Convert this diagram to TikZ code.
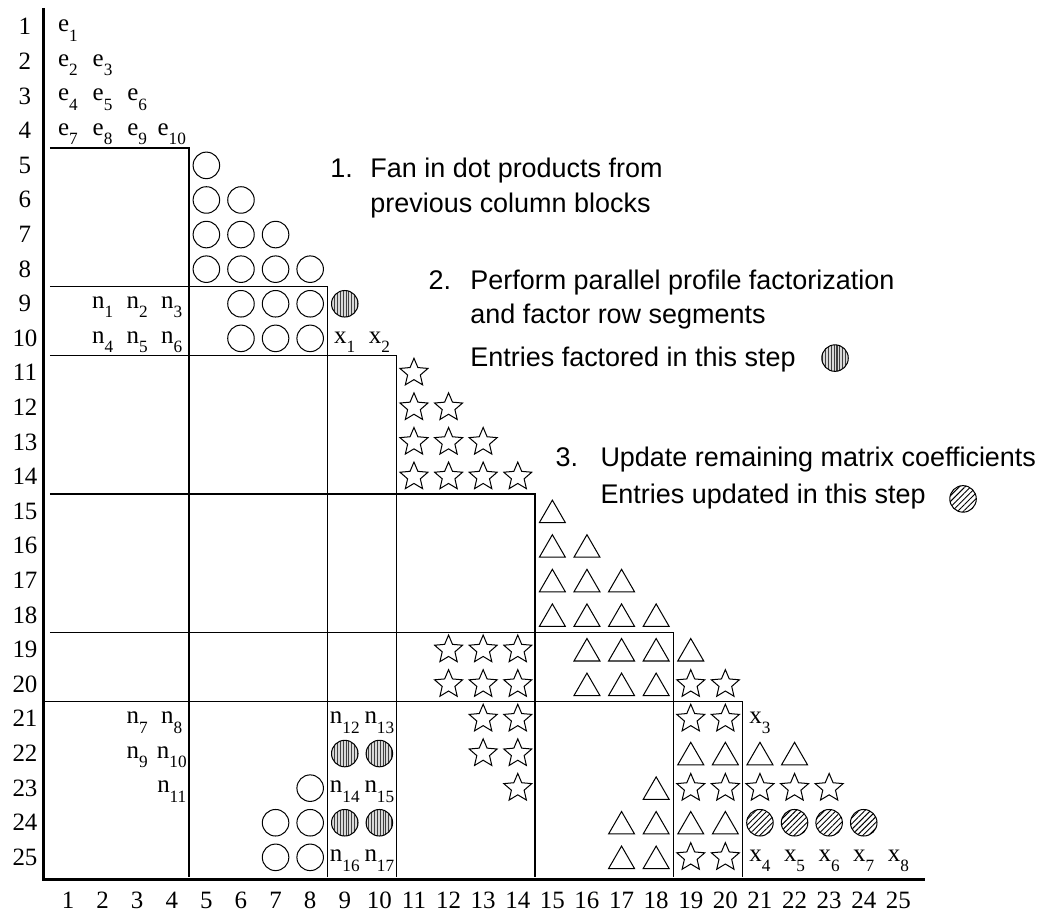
\documentclass[tikz,border=0pt]{standalone}
\usepackage{fontspec}
\setmainfont{Liberation Serif}
\setsansfont{Liberation Sans}
\usetikzlibrary{
    shapes.geometric,
    patterns.meta
}
\newcommand{\sbs}[2]{#1\raisebox{-0.38em}{\fontsize{8.5}{9}\selectfont #2}}
\tikzset{
  lbl/.style   = {font=\fontsize{12.3}{14}\selectfont, inner sep=0pt},
  entry/.style = {lbl, anchor=mid},
  txt/.style   = {font=\sffamily\fontsize{13.3}{15}\selectfont,
                  inner sep=0pt, anchor=base west},
  dotp/.style  = {draw, circle, minimum size=0.46cm, inner sep=0pt, line width=0.5pt},
  fact/.style  = {dotp, preaction={fill=gray!30},
                  pattern={Lines[angle=90, distance=1.4pt, line width=0.5pt]},
                  pattern color=gray!50!black},
  updt/.style  = {dotp, pattern={Lines[angle=45, distance=2pt, line width=0.45pt]}},
  strn/.style  = {draw, star, star points=5, star point ratio=2.2,
                  minimum size=0.51cm, inner sep=0pt, line width=0.5pt},
  tri/.style   = {draw, regular polygon, regular polygon sides=3,
                  minimum size=0.52cm, inner sep=0pt, yshift=-0.065cm, line width=0.5pt},
  axis/.style  = {line width=1.5pt},
  blk/.style   = {line width=0.6pt}
}

\begin{document}
\begin{tikzpicture}[x=0.6cm, y=-0.6cm]
\useasboundingbox (-0.965,0.22) rectangle (29.21,26.61);

% axes and labels
\coordinate (ytop) at (0.306,0.45);
\coordinate (orig) at (0.306,25.65);
\coordinate (xend) at (25.77,25.65);
\draw[axis] (ytop) -- (orig) -- (xend);
\foreach \r in {1,...,25}
  \node[lbl, anchor=base] (r\r) at (-0.243,\r+0.23) {\r};
\foreach \c in {1,...,25}
  \node[lbl, anchor=base] (k\c) at (\c,26.49) {\c};

% column blocks
\foreach \b/\s in {4.5/0.48, 8.5/0.48, 10.5/0.48, 14.5/0.48, 18.5/0.48, 20.5/0.31}
  \draw[blk] (\s,\b) -- (\b,\b) -- (\b,25.57);

% entries
\foreach \k/\c/\r in {1/1/1, 2/1/2, 3/2/2, 4/1/3, 5/2/3, 6/3/3,
                      7/1/4, 8/2/4, 9/3/4, 10/4/4}
  \node[entry] (e\k) at (\c,\r) {\sbs{e}{\k}};
\foreach \k/\c/\r in {1/2/9, 2/3/9, 3/4/9, 4/2/10, 5/3/10, 6/4/10,
                      7/3/21, 8/4/21, 9/3/22, 10/4/22, 11/4/23,
                      12/9/21, 13/10/21, 14/9/23, 15/10/23, 16/9/25, 17/10/25}
  \node[entry] (n\k) at (\c,\r) {\sbs{n}{\k}};
\foreach \k/\c/\r in {1/9/10, 2/10/10, 3/21/21, 4/21/25, 5/22/25,
                      6/23/25, 7/24/25, 8/25/25}
  \node[entry] (x\k) at (\c,\r) {\sbs{x}{\k}};

% dot products
\foreach \r in {5,...,8}
  \foreach \c in {5,...,\r}
    \node[dotp] (o\r-\c) at (\c,\r) {};
\foreach \c/\r in {6/9, 7/9, 8/9, 6/10, 7/10, 8/10, 8/23, 7/24, 8/24, 7/25, 8/25}
  \node[dotp] (o\r-\c) at (\c,\r) {};
\foreach \c/\r in {9/9, 9/22, 10/22, 9/24, 10/24}
  \node[fact] (f\r-\c) at (\c,\r) {};
\foreach \c in {21,...,24}
  \node[updt] (u24-\c) at (\c,24) {};

% stars
\foreach \r in {11,...,14}
  \foreach \c in {11,...,\r}
    \node[strn] (s\r-\c) at (\c,\r) {};
\foreach \c/\r in {12/19, 13/19, 14/19, 12/20, 13/20, 14/20, 19/20, 20/20,
                   13/21, 14/21, 19/21, 20/21, 13/22, 14/22, 14/23,
                   19/23, 20/23, 21/23, 22/23, 23/23, 19/25, 20/25}
  \node[strn] (s\r-\c) at (\c,\r) {};

% triangles
\foreach \r in {15,...,18}
  \foreach \c in {15,...,\r}
    \node[tri] (t\r-\c) at (\c,\r) {};
\foreach \c/\r in {16/19, 17/19, 18/19, 19/19, 16/20, 17/20, 18/20,
                   19/22, 20/22, 21/22, 22/22, 18/23,
                   17/24, 18/24, 19/24, 20/24, 17/25, 18/25}
  \node[tri] (t\r-\c) at (\c,\r) {};

% steps
\node[txt] (h1)  at (8.57,5.36)  {1.};
\node[txt] (h1a) at (9.73,5.36)  {Fan in dot products from};
\node[txt] (h1b) at (9.73,6.35)  {previous column blocks};
\node[txt] (h2)  at (11.41,8.60) {2.};
\node[txt] (h2a) at (12.62,8.60) {Perform parallel profile factorization};
\node[txt] (h2b) at (12.62,9.56) {and factor row segments};
\node[txt] (h2c) at (12.62,10.80) {Entries factored in this step};
\node[fact] (kf) at (23.17,10.57) {};
\node[txt] (h3)  at (15.08,13.69) {3.};
\node[txt] (h3a) at (16.38,13.69) {Update remaining matrix coefficients};
\node[txt] (h3b) at (16.38,14.76) {Entries updated in this step};
\node[updt] (ku) at (26.87,14.64) {};
\end{tikzpicture}
\end{document}
